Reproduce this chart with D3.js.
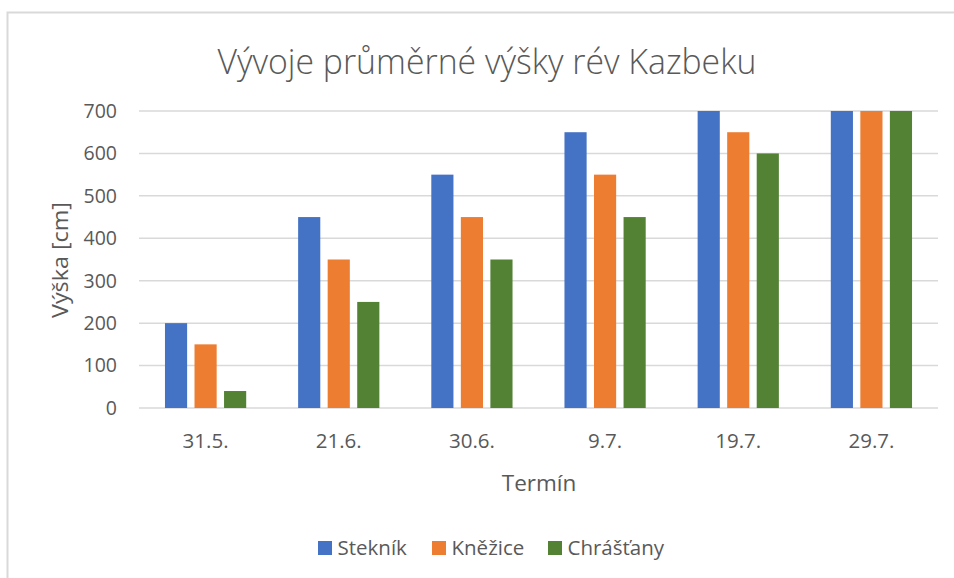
<!DOCTYPE html>
<html>
<head>
<meta charset="utf-8">
<script src="https://cdn.jsdelivr.net/npm/d3@7"></script>
<style>
  body { margin: 0; background: #fff; }
  text { font-family: "Open Sans", "Noto Sans", sans-serif; fill: #595959; }
</style>
</head>
<body>
<script>
// chart data
const categories = ['31.5.', '21.6.', '30.6.', '9.7.', '19.7.', '29.7.'];
const seriesNames = ['Stekník', 'Kněžice', 'Chrášťany'];
const steknik = [200, 450, 550, 650, 700, 700];
const knezice = [150, 350, 450, 550, 650, 700];
const chrastany = [40, 250, 350, 450, 600, 700];
const yTicks = [0, 100, 200, 300, 400, 500, 600, 700];
const colors = ['#4472c4', '#ed7d31', '#548235'];

const width = 954, height = 578;
const margin = {top: 111, left: 139, bottom: 170, right: 16};

const svg = d3.select('body').append('svg')
    .attr('width', width)
    .attr('height', height);

// outer frame (only the left and top edges are visible)
svg.append('path')
    .attr('d', `M7.5,${height} V12.5 H${width}`)
    .attr('fill', 'none')
    .attr('stroke', '#d9d9d9')
    .attr('stroke-width', 2);

const scaleX = d3.scaleBand().domain(categories)
    .range([margin.left, width - margin.right]);
const scaleY = d3.scaleLinear().domain([0, 700])
    .range([height - margin.bottom, margin.top]);

const innerPad = 0.195;
const scaleBar = d3.scaleBand().domain(seriesNames)
    .range([scaleX.bandwidth() * innerPad, scaleX.bandwidth() * (1 - innerPad)])
    .paddingInner(0.25);
const scaleColor = d3.scaleOrdinal().domain(seriesNames).range(colors);

// gridlines
svg.append('g')
    .selectAll('line')
    .data(yTicks)
    .enter()
    .append('line')
    .attr('x1', margin.left)
    .attr('x2', width - margin.right)
    .attr('y1', d => scaleY(d))
    .attr('y2', d => scaleY(d))
    .attr('stroke', '#d9d9d9')
    .attr('stroke-width', 1.5);

// y tick labels
svg.append('g')
    .selectAll('text')
    .data(yTicks)
    .enter()
    .append('text')
    .attr('x', 117)
    .attr('y', d => scaleY(d))
    .attr('dy', '0.35em')
    .attr('text-anchor', 'end')
    .attr('font-size', 19.5)
    .text(d => d);

// bars
const table = categories.map((c, i) => ({
    category: c,
    values: [steknik[i], knezice[i], chrastany[i]]
}));

svg.append('g')
    .selectAll('g')
    .data(table)
    .enter()
    .append('g')
    .attr('transform', d => `translate(${scaleX(d.category)},0)`)
    .selectAll('rect')
    .data(d => seriesNames.map((s, j) => ({s, value: d.values[j]})))
    .enter()
    .append('rect')
    .attr('x', d => scaleBar(d.s))
    .attr('y', d => scaleY(d.value))
    .attr('width', scaleBar.bandwidth())
    .attr('height', d => scaleY(0) - scaleY(d.value))
    .attr('fill', d => scaleColor(d.s));

// x tick labels
svg.append('g')
    .selectAll('text')
    .data(categories)
    .enter()
    .append('text')
    .attr('x', d => scaleX(d) + scaleX.bandwidth() / 2)
    .attr('y', 448)
    .attr('text-anchor', 'middle')
    .attr('font-size', 20.5)
    .text(d => d);

// title
svg.append('text')
    .attr('x', 487)
    .attr('y', 74)
    .attr('text-anchor', 'middle')
    .attr('font-size', 34)
    .attr('font-weight', 300)
    .attr('textLength', 539)
    .attr('lengthAdjust', 'spacingAndGlyphs')
    .text('Vývoje průměrné výšky rév Kazbeku');

// axis titles
svg.append('text')
    .attr('x', 539)
    .attr('y', 491)
    .attr('text-anchor', 'middle')
    .attr('font-size', 22.5)
    .text('Termín');

svg.append('text')
    .attr('transform', 'translate(68,260) rotate(-90)')
    .attr('text-anchor', 'middle')
    .attr('font-size', 22.5)
    .attr('textLength', 116)
    .attr('lengthAdjust', 'spacingAndGlyphs')
    .text('Výška [cm]');

// legend
const legendX = [318, 432, 548];
const legend = svg.append('g')
    .selectAll('g')
    .data(seriesNames)
    .enter()
    .append('g')
    .attr('transform', (d, i) => `translate(${legendX[i]},548)`);

legend.append('rect')
    .attr('x', 0)
    .attr('y', -7)
    .attr('width', 14)
    .attr('height', 14)
    .attr('fill', d => scaleColor(d));

legend.append('text')
    .attr('x', 19.5)
    .attr('dy', '0.35em')
    .attr('font-size', 20.5)
    .text(d => d);
</script>
</body>
</html>
